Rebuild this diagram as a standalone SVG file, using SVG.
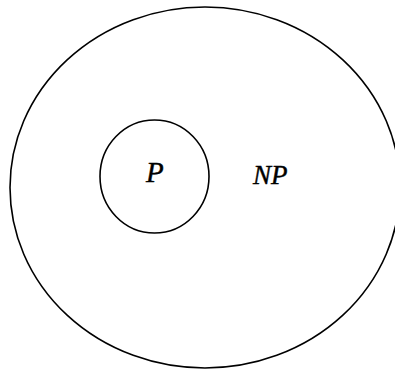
<svg xmlns="http://www.w3.org/2000/svg" width="395" height="374" viewBox="0 0 395 374">
<style>
.c{fill:none;stroke:#000;stroke-width:1.6}
.t{font-family:"Liberation Serif",serif;font-style:italic;fill:#000;stroke:#000;stroke-width:0.4}
</style>
<rect width="395" height="374" fill="#fff"/>
<g id="NP">
<ellipse class="c" cx="205" cy="187.5" rx="195" ry="180.5"/>
<text class="t" x="253" y="184" font-size="27">NP</text>
</g>
<g id="P">
<ellipse class="c" cx="154.5" cy="176.5" rx="54.5" ry="56.5"/>
<text class="t" x="146" y="182" font-size="29">P</text>
</g>
<g id="connectors"/>
</svg>
